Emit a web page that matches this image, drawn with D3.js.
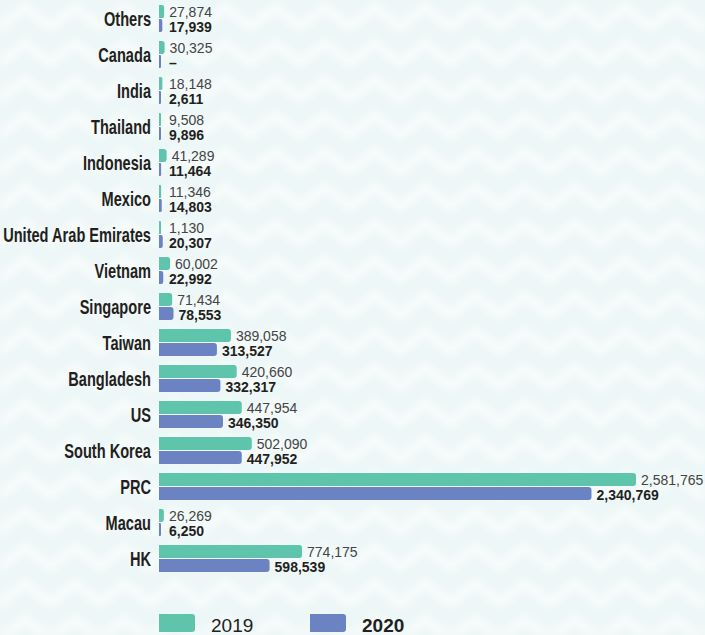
<!DOCTYPE html>
<html>
<head>
<meta charset="utf-8">
<script src="https://cdn.jsdelivr.net/npm/d3@7"></script>
<style>
  html, body { margin: 0; padding: 0; background: #eef7f7; }
  svg { display: block; }
</style>
</head>
<body>
<svg id="chart" width="705" height="635"></svg>
<script>
const categories = ['Others', 'Canada', 'India', 'Thailand', 'Indonesia', 'Mexico',
  'United Arab Emirates', 'Vietnam', 'Singapore', 'Taiwan', 'Bangladesh', 'US',
  'South Korea', 'PRC', 'Macau', 'HK'];
const values2019 = [27874, 30325, 18148, 9508, 41289, 11346, 1130, 60002, 71434,
  389058, 420660, 447954, 502090, 2581765, 26269, 774175];
const values2020 = [17939, null, 2611, 9896, 11464, 14803, 20307, 22992, 78553,
  313527, 332317, 346350, 447952, 2340769, 6250, 598539];
const seriesNames = ['2019', '2020'];

const GREEN = '#5ec4ac';
const BLUE = '#6b83c3';
const FONT = '"Liberation Sans", Arial, sans-serif';
const X0 = 159;
const BAR_H = 13;
const CONDENSE = 0.73;

const svg = d3.select('#chart');

// faint herringbone texture behind everything
const defs = svg.append('defs');
defs.append('filter').attr('id', 'soft')
  .append('feGaussianBlur').attr('stdDeviation', 3);
const pat = defs.append('pattern')
  .attr('id', 'zig').attr('patternUnits', 'userSpaceOnUse')
  .attr('width', 50).attr('height', 36);
pat.append('rect').attr('width', 50).attr('height', 36).attr('fill', '#eef7f7');
pat.append('path')
  .attr('d', 'M-5,30 L25,8 L55,30 M-5,66 L25,44 L55,66 M-5,-6 L25,-28 L55,-6')
  .attr('fill', 'none').attr('stroke', '#f6fbfb').attr('stroke-width', 10);
svg.append('rect').attr('width', 705).attr('height', 635).attr('fill', 'url(#zig)')
  .attr('filter', 'url(#soft)');

const x = d3.scaleLinear().domain([0, 2581765]).range([X0, 636]);
const y = d3.scaleBand().domain(categories).range([0, 576]);

const rows = categories.map((c, i) => ({ cat: c, v19: values2019[i], v20: values2020[i] }));

// bar with square left edge and slightly rounded right end
function barPath(x0, y0, w, h) {
  const r = Math.min(3, w / 2);
  return `M${x0},${y0} H${x0 + w - r} Q${x0 + w},${y0} ${x0 + w},${y0 + r} ` +
    `V${y0 + h - r} Q${x0 + w},${y0 + h} ${x0 + w - r},${y0 + h} H${x0} Z`;
}

const row = svg.append('g').selectAll('g.row').data(rows).enter().append('g')
  .attr('class', 'row')
  .attr('transform', d => `translate(0,${y(d.cat) + y.bandwidth() / 2})`);

row.append('g')
  .attr('transform', `translate(151,7.5) scale(${CONDENSE},1)`)
  .append('text')
  .attr('text-anchor', 'end')
  .attr('font-family', FONT).attr('font-weight', 'bold').attr('font-size', 20)
  .attr('fill', '#231f20')
  .text(d => d.cat);

row.append('path')
  .attr('fill', GREEN)
  .attr('d', d => barPath(X0, -13, Math.max(2, x(d.v19) - X0), BAR_H));
row.append('path')
  .attr('fill', BLUE)
  .attr('d', d => barPath(X0, 1, Math.max(2, x(d.v20 || 0) - X0), BAR_H));

row.append('text')
  .attr('x', d => Math.max(169, x(d.v19) + 5)).attr('y', -1)
  .attr('font-family', FONT).attr('font-size', 14).attr('fill', '#444')
  .text(d => d3.format(',')(d.v19));
row.append('text')
  .attr('x', d => Math.max(169, x(d.v20 || 0) + 5)).attr('y', 14)
  .attr('font-family', FONT).attr('font-weight', 'bold').attr('font-size', 14).attr('fill', '#231f20')
  .text(d => d.v20 == null ? '–' : d3.format(',')(d.v20));

// legend
const legend = svg.append('g').attr('transform', 'translate(0,614)');
const items = [
  { name: seriesNames[0], color: GREEN, x: 159, bold: false },
  { name: seriesNames[1], color: BLUE, x: 310, bold: true }
];
const li = legend.selectAll('g').data(items).enter().append('g')
  .attr('transform', d => `translate(${d.x},0)`);
li.append('path').attr('fill', d => d.color).attr('d', barPath(0, 0, 36, 18));
li.append('text')
  .attr('x', 52).attr('y', 18)
  .attr('font-family', FONT).attr('font-size', 19)
  .attr('font-weight', d => d.bold ? 'bold' : 'normal')
  .attr('fill', '#231f20')
  .text(d => d.name);
</script>
</body>
</html>
